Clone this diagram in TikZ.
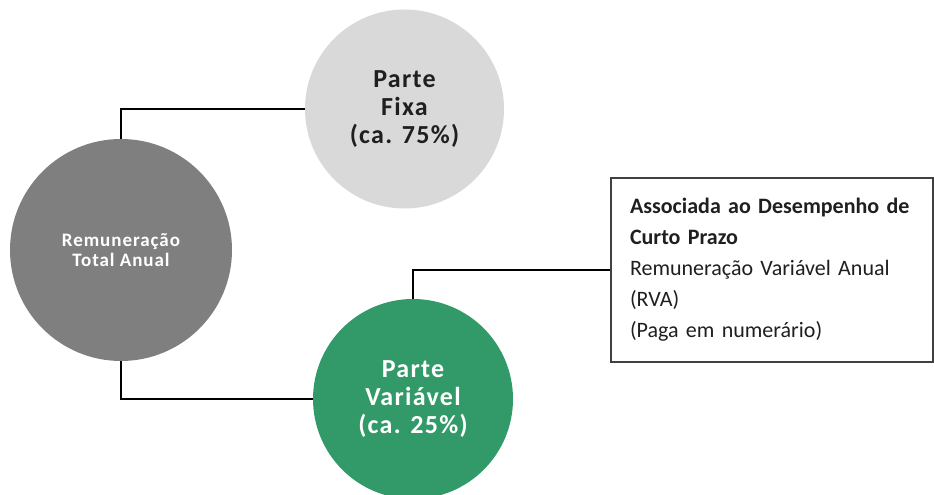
\documentclass[tikz,border=0pt]{standalone}
\usepackage{fontspec}
\setmainfont{Carlito}
\newfontfamily\circfont[LetterSpace=5]{Carlito}
\definecolor{totalgray}{HTML}{7F7F7F}
\definecolor{fixgray}{HTML}{D9D9D9}
\definecolor{varGreen}{HTML}{329A68}
\definecolor{inktext}{HTML}{1F1F1F}
\begin{document}
\begin{tikzpicture}[x=1pt,y=1pt,
  part/.style={circle, draw=none, inner sep=0pt, align=center,
    font=\circfont\bfseries\fontsize{26}{28}\selectfont},
  link/.style={draw=black, line width=1.8pt},
  infobox/.style={draw=black!75, line width=1.4pt, align=left,
    text width=284pt, inner xsep=19pt, inner ysep=0pt,
    minimum width=322pt, minimum height=184pt, text=inktext,
    font=\fontsize{22}{31}\selectfont}]
\useasboundingbox (0,0) rectangle (934,495);

% the three circles
\node[part, fill=totalgray, minimum size=222pt, text=white,
  font=\circfont\bfseries\fontsize{19}{20}\selectfont]
  (total) at (121,245) {Remuneração\\Total Anual};
\node[part, fill=fixgray, minimum size=199pt, text=inktext]
  (fixa) at (404.5,386) {Parte\\Fixa\\(ca. 75\%)};
\node[part, fill=varGreen, minimum size=200pt, text=white]
  (var) at (413,96) {Parte\\Variável\\(ca. 25\%)};

% description of the variable part
\node[infobox] (rva) at (772,225)
  {\textbf{Associada ao Desempenho de}\\
   \textbf{Curto Prazo}\\
   Remuneração Variável Anual\\
   (RVA)\\
   (Paga em numerário)};

% connectors
\draw[link] (total.north) |- (fixa.west);
\draw[link] (total.south) |- (var.west);
\draw[link] (var.north) |- (rva.west);
\end{tikzpicture}
\end{document}
